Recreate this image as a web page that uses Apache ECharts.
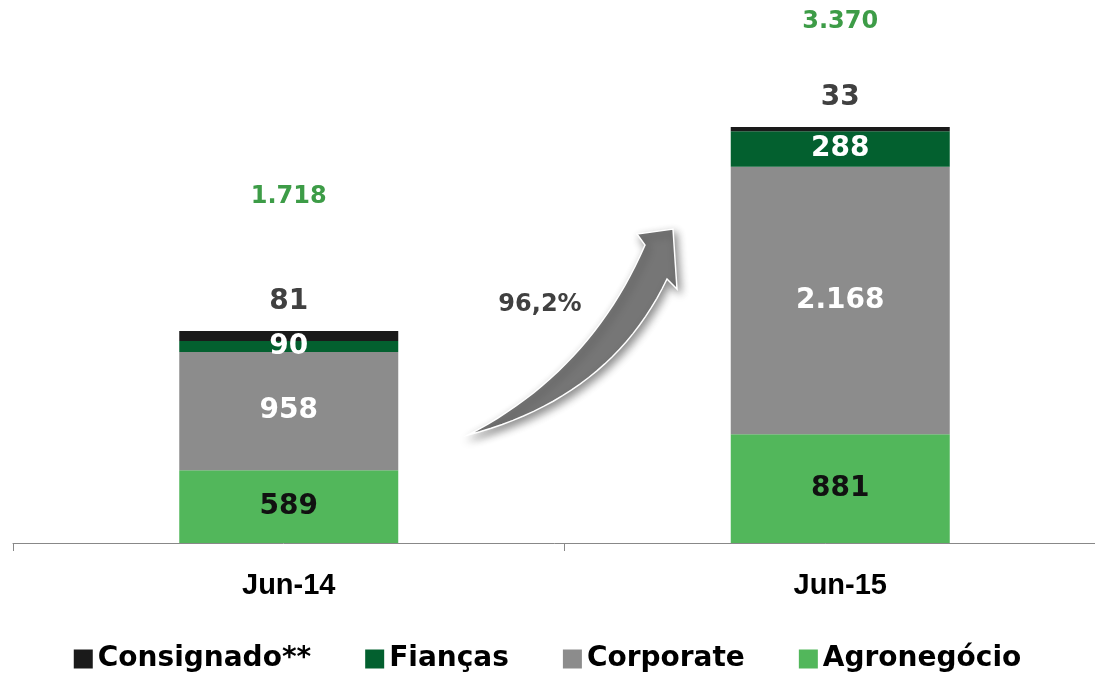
<!DOCTYPE html>
<html>
<head>
<meta charset="utf-8">
<title>Carteira</title>
<style>
  html, body { margin: 0; padding: 0; background: #fff; }
  #main { width: 1095px; height: 673px; }
</style>
</head>
<body>
<div id="main"></div>
<script src="https://cdn.jsdelivr.net/npm/echarts@6/dist/echarts.min.js"></script>
<script>
    var categories = ['Jun-14', 'Jun-15'];
    var agro       = [589, 881];
    var corporate  = [958, 2168];
    var fiancas    = [90, 288];
    var consignado = [81, 33];
    var growthText = '96,2%';

    var totals = categories.map(function (c, i) {
        return agro[i] + corporate[i] + fiancas[i] + consignado[i];
    });

    // 1.718 / 3.370
    function ptNum(v) {
        return String(v).replace(/\B(?=(\d{3})+(?!\d))/g, '.');
    }

    var barFont = 'DejaVu Sans';
    var totalDist = [122, 93];

    // curved arrow outline (decoration), sampled from two quadratic curves
    function quad(p0, c, p1, n) {
        var pts = [];
        for (var k = 0; k <= n; k++) {
            var t = k / n, u = 1 - t;
            pts.push([u * u * p0[0] + 2 * u * t * c[0] + t * t * p1[0],
                      u * u * p0[1] + 2 * u * t * c[1] + t * t * p1[1]]);
        }
        return pts;
    }
    var arrowPts = quad([468, 435], [590, 372], [645, 245], 24)
        .concat([[637, 234], [673, 229], [677, 289], [667, 279]])
        .concat(quad([667, 279], [610, 398], [468, 435], 24));

    var chart = echarts.init(document.getElementById('main'));

    function bar(name, data, color, labelColor) {
        return {
            name: name,
            type: 'bar',
            stack: 'all',
            barWidth: 219,
            data: data,
            itemStyle: {color: color},
            label: {
                show: true,
                position: 'inside',
                color: labelColor,
                fontFamily: barFont,
                fontWeight: 'bold',
                fontSize: 28,
                formatter: function (p) { return ptNum(p.value); }
            }
        };
    }

    var consSeries = bar('Consignado**', consignado, '#1a1a1a', '#404040');
    consSeries.label.position = 'top';
    consSeries.label.distance = 15;

    var option = {
        animation: false,
        backgroundColor: '#fff',
        grid: {left: 13, width: 1103, top: 0, bottom: 130, outerBoundsMode: 'none'},
        legend: {
            data: ['Consignado**', 'Fianças', 'Corporate', 'Agronegócio'],
            left: 'center',
            top: 640,
            icon: 'rect',
            itemWidth: 19,
            itemHeight: 19,
            itemGap: 54,
            textStyle: {
                color: '#000',
                fontFamily: barFont,
                fontWeight: 'bold',
                fontSize: 28
            }
        },
        xAxis: {
            type: 'category',
            data: categories,
            axisLine: {lineStyle: {color: '#888', width: 1}},
            axisTick: {show: true, length: 8, lineStyle: {color: '#888'}},
            axisLabel: {
                margin: 28,
                color: '#000',
                fontFamily: 'Liberation Sans',
                fontWeight: 'bold',
                fontSize: 29
            }
        },
        yAxis: {
            type: 'value',
            show: false,
            min: 0,
            max: 4400,
            splitLine: {show: false}
        },
        series: [
            bar('Agronegócio', agro, '#52b75b', '#111'),
            bar('Corporate', corporate, '#8c8c8c', '#fff'),
            bar('Fianças', fiancas, '#03602f', '#fff'),
            consSeries,
            {
                name: 'Total',
                type: 'bar',
                stack: 'all',
                barWidth: 219,
                itemStyle: {color: 'transparent'},
                data: totals.map(function (t, i) {
                    return {value: 0, label: {distance: totalDist[i]}};
                }),
                label: {
                    show: true,
                    position: 'top',
                    color: '#3d9c47',
                    fontFamily: barFont,
                    fontWeight: 'bold',
                    fontSize: 24,
                    formatter: function (p) { return ptNum(totals[p.dataIndex]); }
                }
            }
        ],
        graphic: [
            {
                type: 'polygon',
                shape: {points: arrowPts},
                style: {
                    fill: '#767676',
                    stroke: '#fff',
                    lineWidth: 1.5,
                    shadowBlur: 8,
                    shadowColor: 'rgba(0,0,0,0.45)',
                    shadowOffsetX: 3,
                    shadowOffsetY: 4
                }
            },
            {
                type: 'text',
                x: 540,
                y: 305,
                style: {
                    text: growthText,
                    fill: '#404040',
                    font: 'bold 24px "DejaVu Sans"',
                    align: 'center',
                    verticalAlign: 'middle'
                }
            }
        ]
    };

    chart.setOption(option);
</script>
</body>
</html>
